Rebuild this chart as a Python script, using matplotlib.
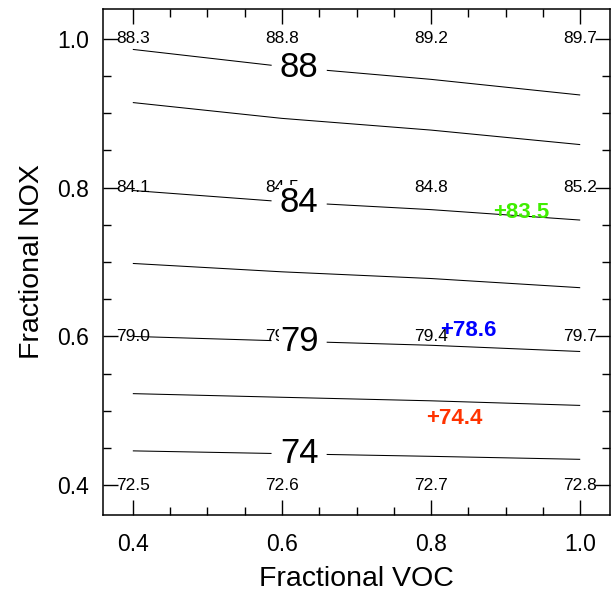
import matplotlib
matplotlib.use('Agg')
import matplotlib.pyplot as plt
import numpy as np

plt.rcParams['font.family'] = ['Liberation Sans', 'DejaVu Sans']

# grid of the sensitivity run
voc = [0.4, 0.6, 0.8, 1.0]
nox = [0.4, 0.6, 0.8, 1.0]
# rows = nox, cols = voc
o3 = [[72.5, 72.6, 72.7, 72.8],
      [79.0, 79.2, 79.4, 79.7],
      [84.1, 84.5, 84.8, 85.2],
      [88.3, 88.8, 89.2, 89.7]]
plain_levels = [76.5, 81.5, 86.5]
label_levels = [74, 79, 84, 88]
label_pos = [(0.623, 0.442), (0.623, 0.592), (0.623, 0.779), (0.623, 0.959)]

# marked points
pt_x = [0.921, 0.850, 0.831]
pt_y = [0.767, 0.608, 0.490]
pt_txt = ['+83.5', '+78.6', '+74.4']
pt_col = ['#40ee00', '#0000ff', '#ff3300']

fig = plt.figure(figsize=(6.16, 5.97), dpi=100)
ax = fig.add_axes([0.1672, 0.1374, 0.8231, 0.8475])

X, Y = np.meshgrid(voc, nox)
Z = np.array(o3)
ax.contour(X, Y, Z, levels=plain_levels, colors='k', linewidths=0.75, zorder=2)
cs = ax.contour(X, Y, Z, levels=label_levels, colors='k', linewidths=0.75, zorder=2)
lbl = ax.clabel(cs, manual=label_pos, inline=True,
                inline_spacing=12, fmt='%d', fontsize=25)
for t in lbl:
    t.set_rotation(0)
    t.set_zorder(5)
    t.set_bbox(dict(facecolor='white', edgecolor='none', pad=0.5))

# value at each grid point
for i, yy in enumerate(nox):
    for j, xx in enumerate(voc):
        ax.text(xx, yy, '%.1f' % o3[i][j], ha='center', va='center',
                fontsize=12.5, zorder=3)

for xx, yy, s, c in zip(pt_x, pt_y, pt_txt, pt_col):
    ax.text(xx, yy, s, color=c, fontsize=16, fontweight='bold',
            ha='center', va='center', zorder=6)

ax.set_xlim(0.36, 1.04)
ax.set_ylim(0.36, 1.04)
ax.set_xticks([0.4, 0.6, 0.8, 1.0])
ax.set_yticks([0.4, 0.6, 0.8, 1.0])
ax.set_xticks(np.arange(0.4, 1.001, 0.05), minor=True)
ax.set_yticks(np.arange(0.4, 1.001, 0.05), minor=True)
ax.xaxis.set_major_formatter(matplotlib.ticker.FormatStrFormatter('%.1f'))
ax.yaxis.set_major_formatter(matplotlib.ticker.FormatStrFormatter('%.1f'))
ax.tick_params(which='both', direction='in', top=True, right=True, width=1)
ax.tick_params(which='major', length=11, labelsize=16.5)
ax.tick_params(axis='x', which='major', pad=13)
ax.tick_params(axis='y', which='major', pad=10)
ax.tick_params(which='minor', length=6)
for sp in ax.spines.values():
    sp.set_linewidth(1.1)

ax.set_xlabel('Fractional VOC', fontsize=20.5, labelpad=7)
ax.set_ylabel('Fractional NOX', fontsize=20.5, labelpad=9)

fig.savefig('out.png', dpi=100)
